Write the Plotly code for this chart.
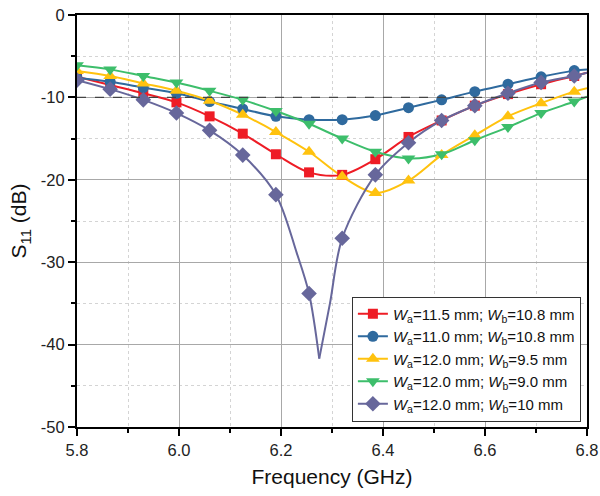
import plotly.graph_objects as go

# ---------------- data ----------------
freq = [5.8, 5.865, 5.93, 5.995, 6.06, 6.125, 6.19, 6.255,
        6.32, 6.385, 6.45, 6.515, 6.58, 6.645, 6.71, 6.775]
freq_end = 6.8

s11_red = [-7.5, -8.5, -9.5, -10.6, -12.3, -14.4, -16.9, -19.1,
           -19.4, -17.5, -14.8, -12.8, -11.0, -9.6, -8.4, -7.4]
s11_red_end = -7.0

s11_blue = [-7.6, -8.1, -8.8, -9.5, -10.5, -11.4, -12.3, -12.7,
            -12.7, -12.2, -11.25, -10.3, -9.3, -8.4, -7.5, -6.75]
s11_blue_end = -6.6

s11_yellow = [-6.8, -7.4, -8.3, -9.2, -10.4, -12.1, -14.2, -16.6,
              -19.6, -21.6, -20.1, -17.0, -14.6, -12.3, -10.7, -9.3]
s11_yellow_end = -8.9

s11_green = [-6.1, -6.6, -7.4, -8.2, -9.2, -10.3, -11.65, -13.2,
             -15.0, -16.6, -17.4, -16.9, -15.2, -13.6, -11.9, -10.5]
s11_green_end = -9.9

s11_purple = [-7.9, -9.0, -10.3, -11.9, -14.0, -17.0, -21.8, -33.8,
              -27.1, -19.4, -15.5, -12.8, -11.0, -9.5, -8.2, -7.4]
s11_purple_end = -7.0
# extra curve points read from the resonance dip of the purple curve
dip_left_freq = [6.231]
dip_left_s11 = [-28.9]
cusp_freq = 6.275
cusp_s11 = -41.7
dip_right_freq = [6.296]
dip_right_s11 = [-35.0]

threshold = -10

x_tickvals = [5.8, 6.0, 6.2, 6.4, 6.6, 6.8]
x_ticktext = ["5.8", "6.0", "6.2", "6.4", "6.6", "6.8"]
y_tickvals = [0, -10, -20, -30, -40, -50]
y_ticktext = ["0", "-10", "-20", "-30", "-40", "-50"]

labels = [
    "<i>W</i><sub>a</sub>=11.5 mm; <i>W</i><sub>b</sub>=10.8 mm",
    "<i>W</i><sub>a</sub>=11.0 mm; <i>W</i><sub>b</sub>=10.8 mm",
    "<i>W</i><sub>a</sub>=12.0 mm; <i>W</i><sub>b</sub>=9.5 mm",
    "<i>W</i><sub>a</sub>=12.0 mm; <i>W</i><sub>b</sub>=9.0 mm",
    "<i>W</i><sub>a</sub>=12.0 mm; <i>W</i><sub>b</sub>=10 mm",
]

# ---------------- styles ----------------
FONT = "Liberation Sans, Arial, sans-serif"
colors = ["#EE1C25", "#2F6A9E", "#FFC20E", "#3DBE6B", "#67679B"]
symbols = ["square", "circle", "triangle-up", "triangle-down", "diamond"]
msizes = [10, 11, 12, 12, 12]

series = [s11_red, s11_blue, s11_yellow, s11_green, s11_purple]
ends = [s11_red_end, s11_blue_end, s11_yellow_end, s11_green_end, s11_purple_end]

fig = go.Figure()


def add_line(x, y, color):
    fig.add_trace(go.Scatter(
        x=x, y=y, mode="lines",
        line=dict(color=color, width=2, shape="spline", smoothing=0.9),
        showlegend=False, hoverinfo="skip"))


for i, (vals, end) in enumerate(zip(series, ends)):
    lx = list(freq) + [freq_end]
    ly = list(vals) + [end]
    if i == 4:
        left = [(a, b) for a, b in zip(lx, ly) if a < cusp_freq] + list(zip(dip_left_freq, dip_left_s11))
        left = sorted(left) + [(cusp_freq, cusp_s11)]
        right = [(a, b) for a, b in zip(lx, ly) if a > cusp_freq] + list(zip(dip_right_freq, dip_right_s11))
        right = [(cusp_freq, cusp_s11)] + sorted(right)
        add_line([p[0] for p in left], [p[1] for p in left], colors[i])
        add_line([p[0] for p in right], [p[1] for p in right], colors[i])
    else:
        add_line(lx, ly, colors[i])

for i, vals in enumerate(series):
    fig.add_trace(go.Scatter(
        x=freq, y=vals, mode="markers",
        marker=dict(color=colors[i], symbol=symbols[i], size=msizes[i],
                    line=dict(width=0)),
        showlegend=False))

for i in range(5):
    fig.add_trace(go.Scatter(
        x=[None], y=[None], mode="lines+markers", name=labels[i],
        line=dict(color=colors[i], width=2),
        marker=dict(color=colors[i], symbol=symbols[i], size=msizes[i])))

fig.add_hline(y=threshold, line=dict(color="#444444", width=1.3, dash="dash"))

axis_common = dict(
    showline=True, linecolor="black", linewidth=2, mirror=True,
    ticks="outside", ticklen=7, tickwidth=1.5, tickcolor="black",
    showgrid=True, gridcolor="#A8A8A8", gridwidth=1,
    zeroline=False, automargin=False,
    tickfont=dict(family=FONT, size=16.5, color="#222222"),
)

fig.update_xaxes(
    range=[5.8, 6.8], tickvals=x_tickvals, ticktext=x_ticktext,
    minor=dict(dtick=0.1, tick0=5.8, ticks="outside", ticklen=4, tickcolor="black",
               showgrid=True, gridcolor="#D4D4D4", griddash="dot", gridwidth=1),
    title=dict(text="Frequency (GHz)", font=dict(family=FONT, size=21, color="#111111"),
               standoff=12),
    **axis_common)

fig.update_yaxes(
    range=[-50, 0], tickvals=y_tickvals, ticktext=y_ticktext,
    minor=dict(dtick=5, tick0=0, ticks="outside", ticklen=4, tickcolor="black",
               showgrid=True, gridcolor="#D4D4D4", griddash="dot", gridwidth=1),
    title=dict(text="S<sub>11</sub> (dB)", font=dict(family=FONT, size=21, color="#111111"),
               standoff=8),
    **axis_common)

fig.update_layout(
    width=600, height=496,
    margin=dict(l=77, r=13, t=15, b=69),
    plot_bgcolor="white", paper_bgcolor="white",
    legend=dict(x=0.539, y=0.165, xanchor="left", yanchor="middle",
                bgcolor="white", bordercolor="#333333", borderwidth=1,
                font=dict(family=FONT, size=15, color="#111111"),
                tracegroupgap=0, itemwidth=30),
)

fig.write_html("out.html")
